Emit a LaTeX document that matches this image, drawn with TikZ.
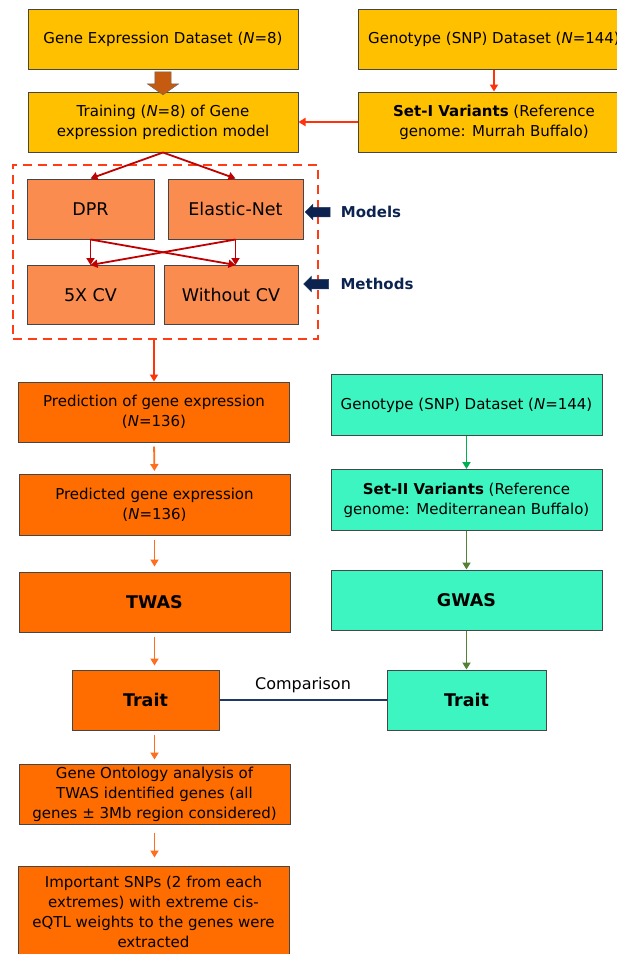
\documentclass[tikz,border=0pt]{standalone}
\usepackage{fontspec}
\setmainfont{DejaVu Sans}
\usepackage{tikz}
\usetikzlibrary{positioning, calc, arrows.meta, shapes.arrows, fit}
\definecolor{boxgold}{RGB}{255, 192, 0}
\definecolor{boxsalmon}{RGB}{250, 140, 80}
\definecolor{boxorange}{RGB}{255, 108, 0}
\definecolor{boxteal}{RGB}{60, 245, 192}
\definecolor{boxborder}{RGB}{70, 70, 70}
\definecolor{dashred}{RGB}{255, 60, 20}
\definecolor{arrowred}{RGB}{255, 50, 10}
\definecolor{darkred}{RGB}{192, 0, 0}
\definecolor{arroworange}{RGB}{255, 110, 30}
\definecolor{arrowgreen}{RGB}{0, 176, 80}
\definecolor{arrowolive}{RGB}{84, 130, 53}
\definecolor{navyline}{RGB}{31, 56, 100}
\definecolor{navytext}{RGB}{12, 35, 80}
\definecolor{brownarrow}{RGB}{197, 90, 17}
\tikzset{
    stepbox/.style={
        draw=boxborder, line width=1pt, align=center, inner sep=2pt,
        minimum height=60pt, font=\fontsize{15}{20}\selectfont
    },
    goldbox/.style={stepbox, fill=boxgold},
    salmonbox/.style={stepbox, fill=boxsalmon, font=\fontsize{17.5}{22}\selectfont},
    orangebox/.style={stepbox, fill=boxorange},
    tealbox/.style={stepbox, fill=boxteal},
    ptr/.style={
        -{Triangle[length=7pt, width=8pt]}, line width=1.8pt
    },
    sideptr/.style={
        single arrow, fill=navytext, draw=navyline, line width=0.5pt, rotate=180,
        minimum height=25pt, inner sep=4.5pt, single arrow head extend=3pt
    },
    sidelabel/.style={
        font=\fontsize{15}{18}\selectfont\bfseries, text=navytext
    }
}

\begin{document}
\begin{tikzpicture}[x=1pt, y=-1pt]
    \useasboundingbox (0,0) rectangle (617,954);

    % ======================================
    % TRAINING STAGE (TOP)
    % ======================================
    \node[goldbox, minimum width=270pt] (gexp) at (163,39) {Gene Expression Dataset (\textit{N}=8)};
    \node[goldbox, minimum width=272pt] (genoA) at (494,39) {Genotype (SNP) Dataset (\textit{N}=144)};
    \node[goldbox, minimum width=270pt] (train) at (163,122) {Training (\textit{N}=8) of Gene\\expression prediction model};
    \node[goldbox, minimum width=272pt] (setA) at (494,122) {\textbf{Set-I Variants} (Reference\\genome: Murrah Buffalo)};

    % thick brown arrow between the two gold boxes
    \node[single arrow, draw=black!60, fill=brownarrow, rotate=-90, minimum height=23pt,
          inner sep=8pt, single arrow head extend=7.5pt, single arrow tip angle=110] (bigdown) at (163,80.5) {};

    \draw[ptr, arrowred] (genoA.south) -- (genoA.south |- setA.north);
    \draw[ptr, arrowred] (setA.west) -- (train.east);

    % ======================================
    % MODELS AND METHODS (DASHED FRAME)
    % ======================================
    \node[salmonbox, minimum width=127pt] (dpr) at (90.5,209) {DPR};
    \node[salmonbox, minimum width=135pt] (elastic) at (235.5,209) {Elastic-Net};
    \node[salmonbox, minimum width=127pt, minimum height=59pt] (fivecv) at (90.5,295) {5X CV};
    \node[salmonbox, minimum width=134pt, minimum height=59pt] (wocv) at (231,295) {Without CV};

    \node[draw=dashred, line width=2pt, dash pattern=on 9pt off 6pt, inner sep=14pt,
          fit=(dpr)(elastic)(fivecv)(wocv)] (frame) {};

    \draw[ptr, darkred] (train.south) -- (dpr.north);
    \draw[ptr, darkred] (train.south) -- (elastic.north);
    \draw[ptr, darkred] (dpr.south) -- (fivecv.north);
    \draw[ptr, darkred] (dpr.south) -- (elastic.south |- wocv.north);
    \draw[ptr, darkred] (elastic.south) -- (elastic.south |- wocv.north);
    \draw[ptr, darkred] (elastic.south) -- (fivecv.north);

    % labels on the right of the frame
    \node[sidelabel] (models) at (371,212) {Models};
    \node[sideptr] (modelsptr) at (320,212) {};
    \node[sidelabel] (methods) at (377,284) {Methods};
    \node[sideptr] (methodsptr) at (318.5,284) {};

    % ======================================
    % TWAS COLUMN (LEFT)
    % ======================================
    \node[orangebox, minimum width=271pt] (pred) at (154,412) {Prediction of gene expression\\(\textit{N}=136)};
    \node[orangebox, minimum width=271pt, minimum height=61pt] (predd) at (154.5,505) {Predicted gene expression\\(\textit{N}=136)};
    \node[orangebox, minimum width=271pt, font=\fontsize{17.5}{20}\selectfont\bfseries] (twas) at (154.5,602) {TWAS};
    \node[orangebox, minimum width=147pt, font=\fontsize{17.5}{20}\selectfont\bfseries] (traitL) at (145.5,700) {Trait};
    \node[orangebox, minimum width=271pt] (gonto) at (154.5,794) {Gene Ontology analysis of\\TWAS identified genes (all\\genes ± 3Mb region considered)};
    \node[orangebox, minimum width=271pt, minimum height=92pt] (snps) at (153.5,912) {Important SNPs (2 from each\\extremes) with extreme cis-\\eQTL weights to the genes were\\extracted};

    \draw[ptr, arrowred] (frame.south -| pred.north) -- (pred.north);
    \draw[ptr, arroworange, shorten <=4pt, shorten >=3pt] (pred.south) -- (predd.north);
    \draw[ptr, arroworange, shorten <=4pt, shorten >=5pt] (predd.south) -- (twas.north);
    \draw[ptr, arroworange, shorten <=4pt, shorten >=4pt] (twas.south) -- (twas.south |- traitL.north);
    \draw[ptr, arroworange, shorten <=4pt, shorten >=4pt] (twas.south |- traitL.south) -- (gonto.north);
    \draw[ptr, arroworange, shorten <=8pt, shorten >=8pt] (gonto.south) -- (gonto.south |- snps.north);

    % ======================================
    % GWAS COLUMN (RIGHT)
    % ======================================
    \node[tealbox, minimum width=271pt, minimum height=61pt] (genoB) at (466.5,405) {Genotype (SNP) Dataset (\textit{N}=144)};
    \node[tealbox, minimum width=271pt, minimum height=61pt] (setB) at (466.5,500) {\textbf{Set-II Variants} (Reference\\genome: Mediterranean Buffalo)};
    \node[tealbox, minimum width=271pt, font=\fontsize{17.5}{20}\selectfont\bfseries] (gwas) at (466.5,600) {GWAS};
    \node[tealbox, minimum width=159pt, font=\fontsize{17.5}{20}\selectfont\bfseries] (traitR) at (466.5,700) {Trait};

    \draw[ptr, arrowgreen] (genoB.south) -- (setB.north);
    \draw[ptr, arrowolive] (setB.south) -- (gwas.north);
    \draw[ptr, arrowolive] (gwas.south) -- (traitR.north);

    % comparison of the two traits
    \draw[navyline, line width=2.5pt] (traitL.east) -- node[above=3pt, font=\fontsize{16}{18}\selectfont, text=black] (cmp) {Comparison} (traitR.west);

\end{tikzpicture}
\end{document}
